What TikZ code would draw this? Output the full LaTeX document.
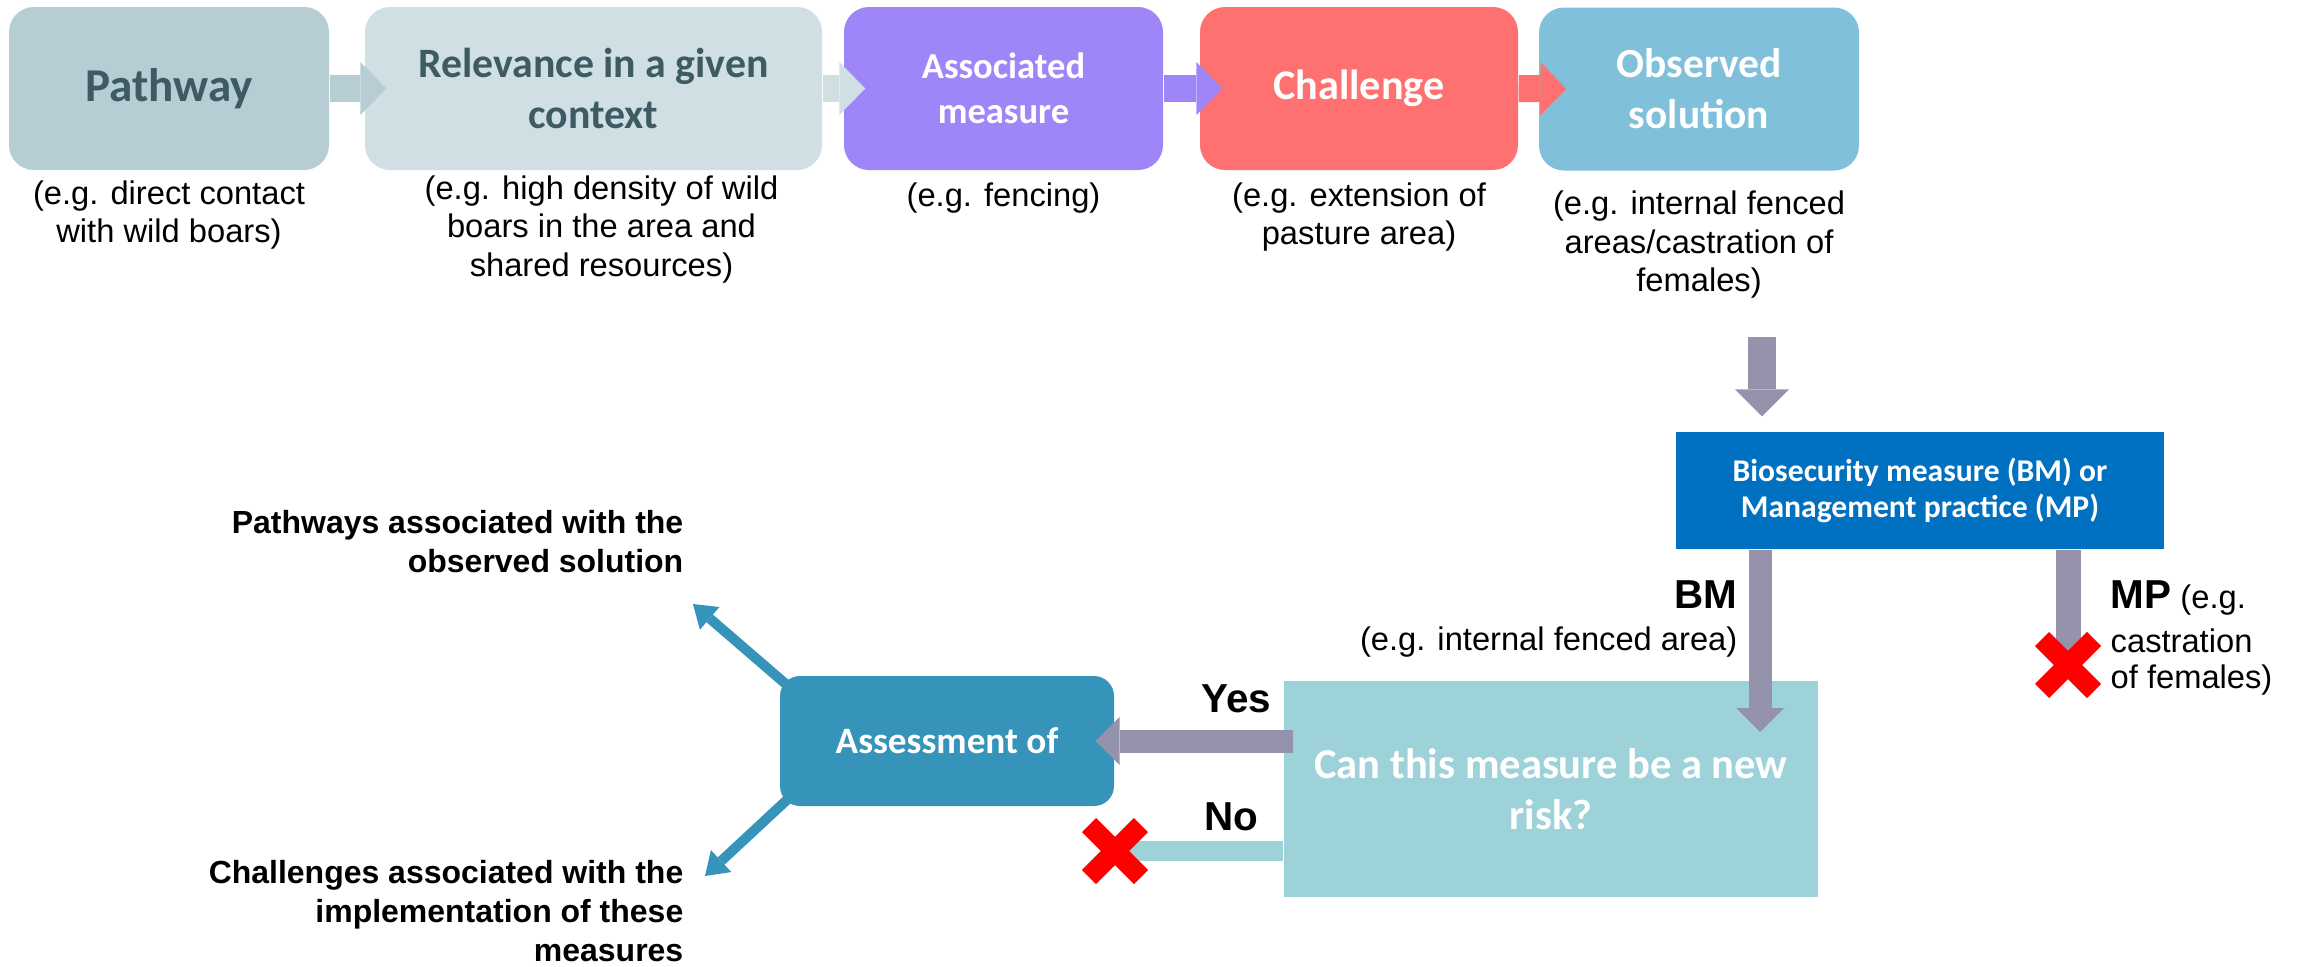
\documentclass[tikz,border=0pt]{standalone}
\usepackage{fontspec}
\setmainfont{Liberation Sans}
\newfontfamily\boxfont{Carlito}
\usetikzlibrary{arrows.meta,positioning}

\definecolor{pathcol}{HTML}{B5CDD3}
\definecolor{relcol}{HTML}{CFDFE4}
\definecolor{pathtext}{HTML}{3E5A63}
\definecolor{assoccol}{HTML}{9F86F8}
\definecolor{challcol}{HTML}{FF7171}
\definecolor{obscol}{HTML}{80C0DA}
\definecolor{bmcol}{HTML}{0070C0}
\definecolor{flowgray}{HTML}{9592AB}
\definecolor{qcol}{HTML}{9DD3D8}
\definecolor{assesscol}{HTML}{3694BB}

\newcommand{\fsz}[2]{\fontsize{#1}{#2}\selectfont}

\begin{document}
\begin{tikzpicture}[
  stage/.style={rounded corners=0.25cm, minimum height=1.63cm, inner sep=0pt, align=center, text=white},
  note/.style={align=center, inner sep=0pt, font=\fsz{9.3}{11}},
  tag/.style={inner sep=0pt, font=\bfseries\fsz{11.5}{13}},
  topflow/.style={line width=0.27cm, -{Triangle[width=0.53cm, length=0.26cm, line width=0pt]}},
  grayflow/.style={flowgray, line width=0.28cm, -{Triangle[width=0.54cm, length=0.27cm, line width=0pt]}},
  thinflow/.style={flowgray, line width=0.23cm, -{Triangle[width=0.48cm, length=0.24cm, line width=0pt]}},
  bluearrow/.style={assesscol, line width=0.1cm, -{Triangle[width=0.3cm, length=0.22cm, line width=0pt]}},
  redx/.style={red, line width=0.2cm}
]
\useasboundingbox (0,0) rectangle (22.98,-9.66);

% Top row of stages
\node[stage, fill=pathcol, text=pathtext, minimum width=3.20cm, font=\boxfont\bfseries\fsz{13.4}{16}] (path) at (1.69,-0.885) {Pathway};
\node[stage, fill=relcol, text=pathtext, minimum width=4.57cm, font=\boxfont\bfseries\fsz{11.9}{14.5}] (rel) at (5.935,-0.885) {Relevance in a given\\context};
\node[stage, fill=assoccol, minimum width=3.19cm, font=\boxfont\bfseries\fsz{10.4}{12.8}] (assoc) at (10.035,-0.885) {Associated\\measure};
\node[stage, fill=challcol, minimum width=3.18cm, font=\boxfont\bfseries\fsz{12}{14.5}] (chall) at (13.59,-0.885) {Challenge};
\node[stage, fill=obscol, minimum width=3.20cm, font=\boxfont\bfseries\fsz{11.8}{14.5}] (obs) at (16.99,-0.89) {Observed\\solution};

% Examples under the stages
\node[note, below=0.09cm of path] (pathnote) {(e.g. direct contact\\with wild boars)};
\node[note, below=0.04cm of rel, xshift=0.08cm] (relnote) {(e.g. high density of wild\\boars in the area and\\shared resources)};
\node[note, below=0.11cm of assoc] (assocnote) {(e.g. fencing)};
\node[note, below=0.11cm of chall] (challnote) {(e.g. extension of\\pasture area)};
\node[note, below=0.19cm of obs] (obsnote) {(e.g. internal fenced\\areas/castration of\\females)};

% Arrows between stages
\draw[topflow, pathcol] (path.east) -- ([xshift=0.22cm]rel.west);
\draw[topflow, relcol] (rel.east) -- ([xshift=0.22cm]assoc.west);
\draw[topflow, assoccol] (assoc.east) -- ([xshift=0.23cm]chall.west);
\draw[topflow, challcol] (chall.east) -- ([xshift=0.28cm]obs.west);

% BM or MP
\node[fill=bmcol, text=white, minimum width=4.88cm, minimum height=1.17cm, inner sep=0pt, align=center, font=\boxfont\bfseries\fsz{9}{10.2}] (bmbox) at (19.20,-4.905) {Biosecurity measure (BM) or\\Management practice (MP)};
\coordinate (obsdrop) at (17.62,-3.37);
\draw[grayflow] (obsdrop) -- ([yshift=0.15cm]bmbox.north -| obsdrop);

% New risk question
\node[fill=qcol, text=white, minimum width=5.34cm, minimum height=2.16cm, inner sep=0pt, align=center, font=\boxfont\bfseries\fsz{12.1}{14.5}] (qbox) at (15.51,-7.89) {Can this measure be a new\\risk?};
\coordinate (bmtip) at (17.60,-7.32);
\draw[thinflow] (bmbox.south -| bmtip) -- (bmtip);
\node[tag, anchor=base east] (bmlabel) at (17.38,-6.08) {BM};
\node[note, anchor=base east] (bmnote) at (17.38,-6.50) {(e.g. internal fenced area)};

\coordinate (xmp) at (20.68,-6.65);
\draw[flowgray, line width=0.25cm] (bmbox.south -| xmp) -- (xmp);
\node[inner sep=0pt, anchor=base west, font=\fsz{9.3}{11}] (mplabel) at (21.10,-6.08) {{\bfseries\fsz{11.5}{13}MP} (e.g.};
\node[note, align=left, anchor=north west, font=\fsz{9.3}{10.3}] (mpnote) at (21.10,-6.28) {castration\\of females)};

% Assessment
\node[fill=assesscol, text=white, rounded corners=0.2cm, minimum width=3.34cm, minimum height=1.30cm, inner sep=0pt, font=\boxfont\bfseries\fsz{10.6}{13}] (assess) at (9.47,-7.41) {Assessment of};
\draw[thinflow] ([xshift=0.1cm]qbox.west |- assess.east) -- ([xshift=-0.19cm]assess.east);
\node[tag, anchor=base east] (yes) at (12.72,-7.12) {Yes};

\coordinate (xno) at (11.15,-8.51);
\draw[qcol, line width=0.2cm] (qbox.west |- xno) -- (xno);
\node[tag, anchor=base east] (no) at (12.59,-8.30) {No};

% Crosses
\foreach \c in {xno,xmp} {
  \draw[redx] ([shift={(-0.26,0.26)}]\c) -- ([shift={(0.26,-0.26)}]\c);
  \draw[redx] ([shift={(-0.26,-0.26)}]\c) -- ([shift={(0.26,0.26)}]\c);
}

% What is assessed
\coordinate (pwtip) at (6.93,-6.04);
\coordinate (chtip) at (7.05,-8.76);
\draw[bluearrow] ([shift={(0.08,-0.1)}]assess.north west) -- (pwtip);
\draw[bluearrow] ([shift={(0.1,0.09)}]assess.south west) -- (chtip);
\node[inner sep=0pt, align=right, anchor=north east, font=\bfseries\fsz{9.1}{11.1}] (pwtext) at (6.84,-5.10) {Pathways associated with the\\observed solution};
\node[inner sep=0pt, align=right, anchor=north east, font=\bfseries\fsz{9.1}{11.1}] (chtext) at (6.84,-8.60) {Challenges associated with the\\implementation of these\\measures};
\end{tikzpicture}
\end{document}
